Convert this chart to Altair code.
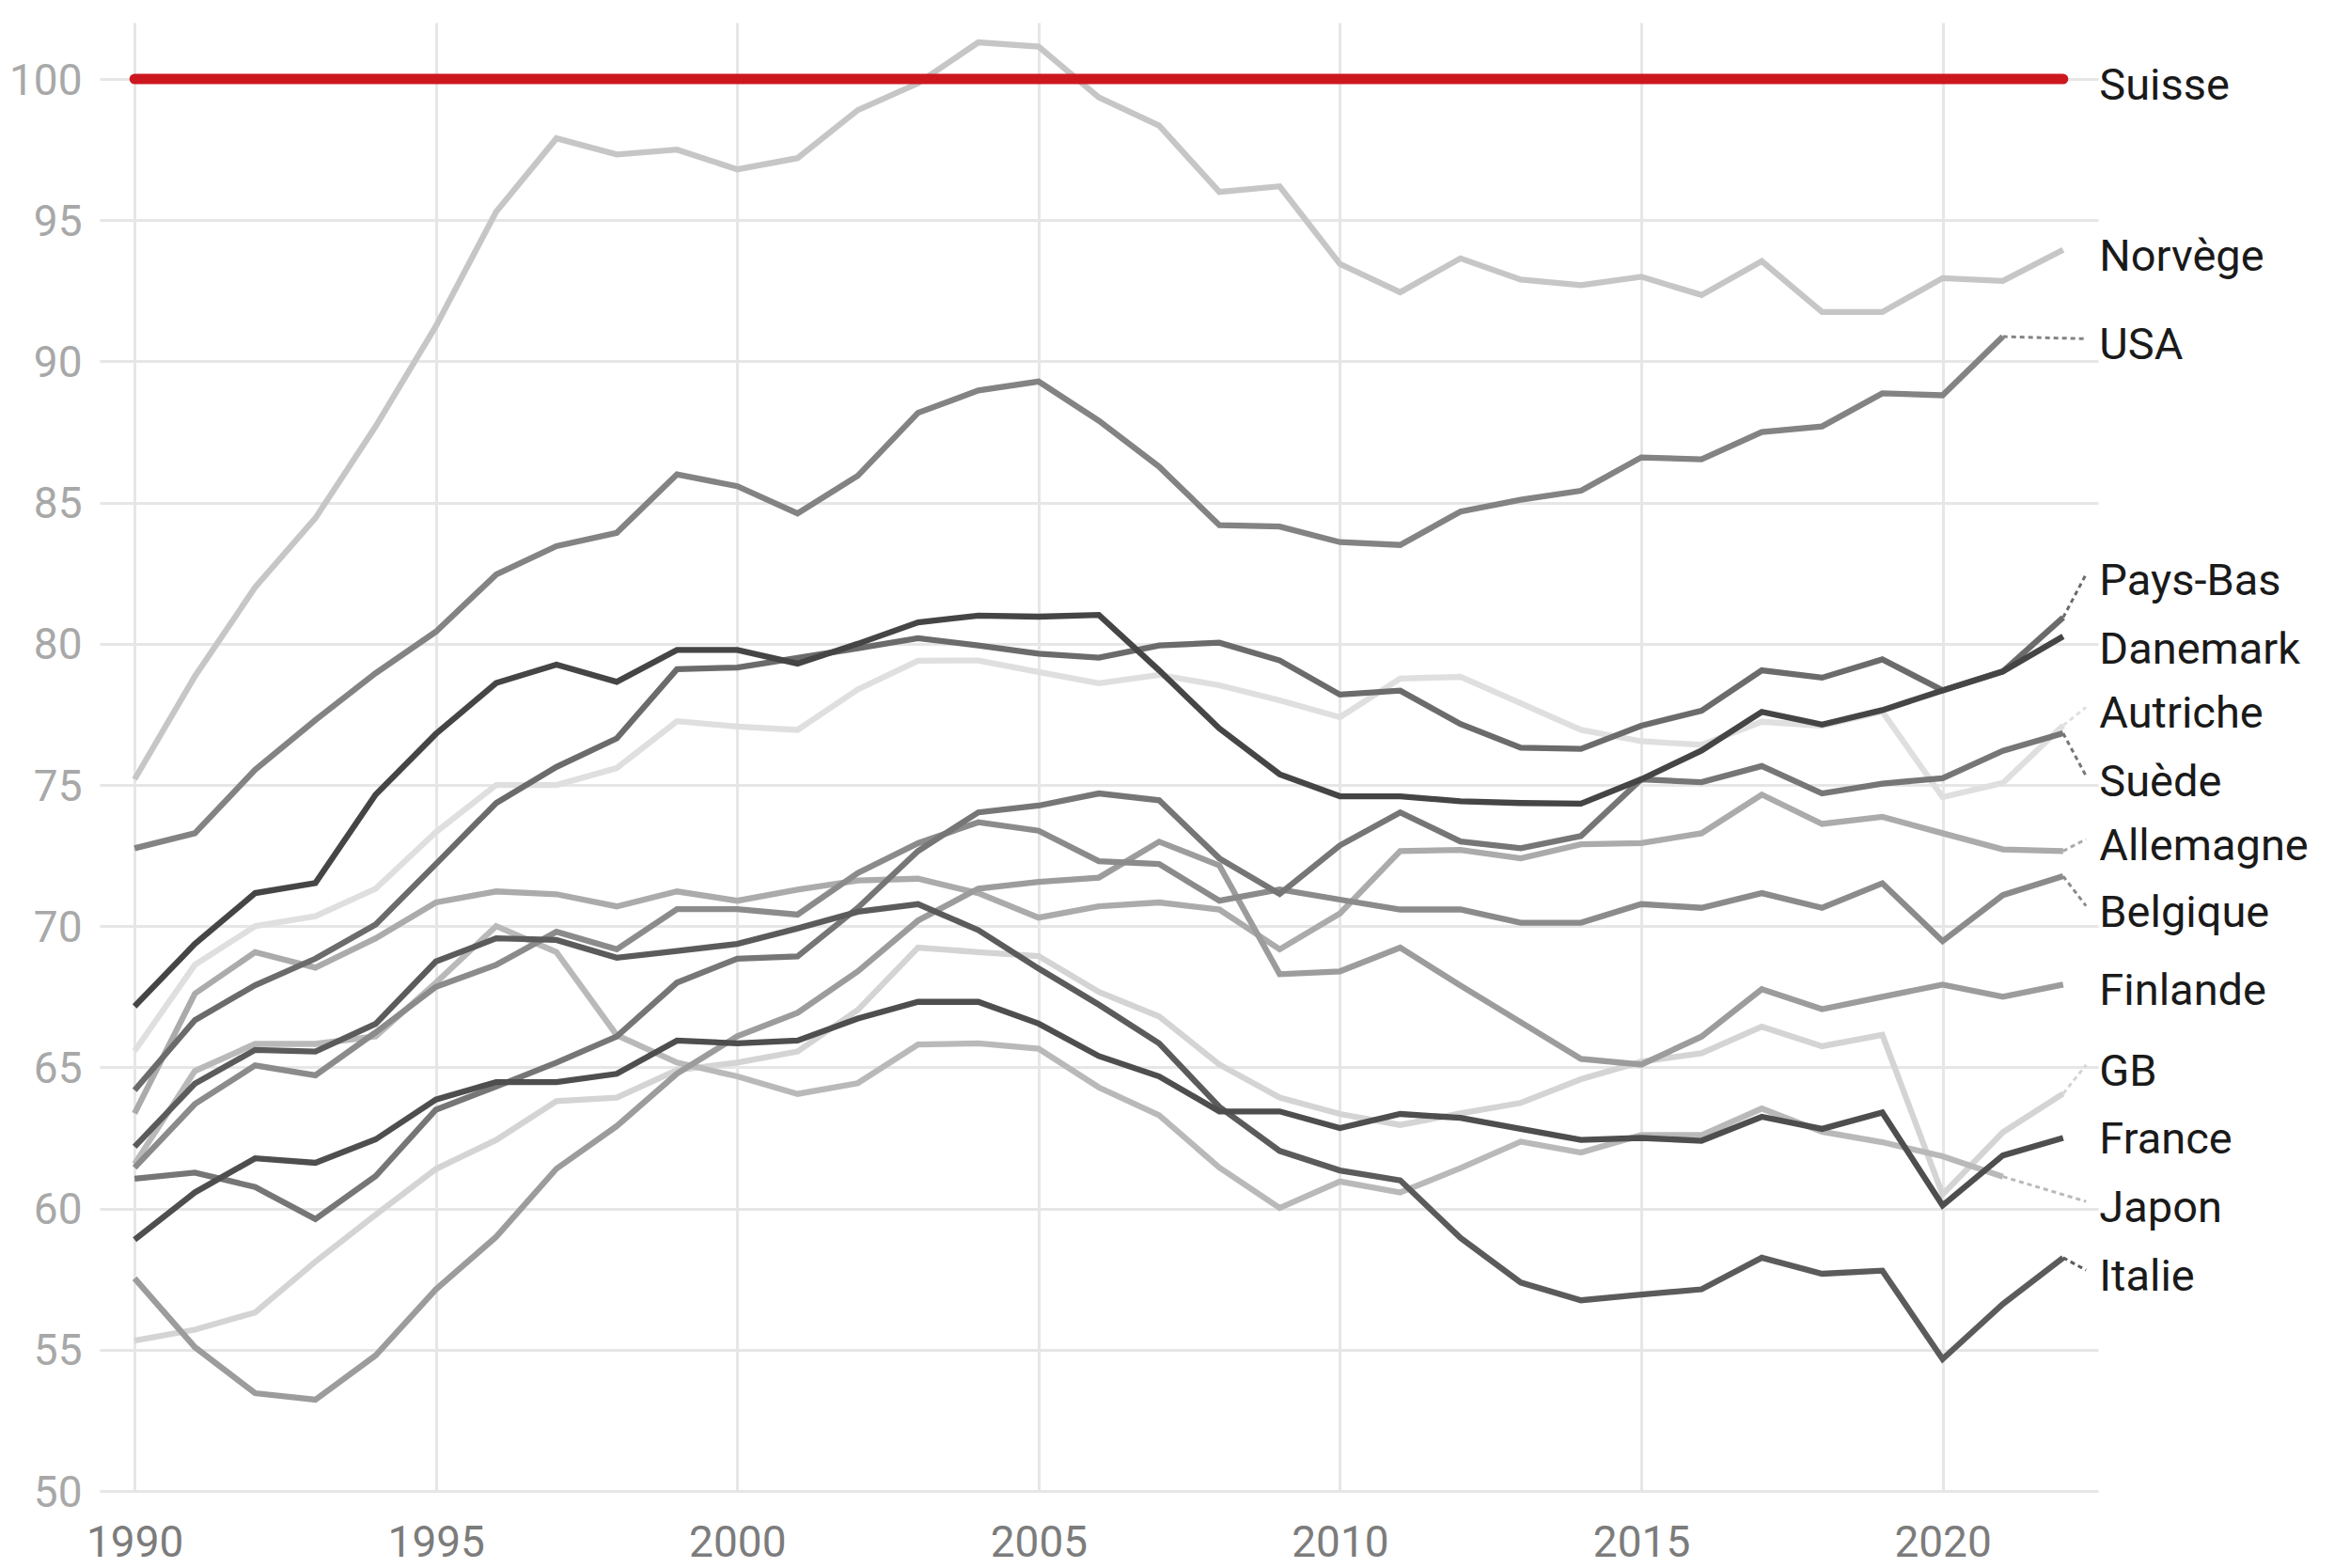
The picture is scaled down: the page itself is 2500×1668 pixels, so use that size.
import altair as alt
import pandas as pd

years = list(range(1990, 2023))

suisse = [100, 100, 100, 100, 100, 100, 100, 100, 100, 100, 100,
          100, 100, 100, 100, 100, 100, 100, 100, 100, 100, 100,
          100, 100, 100, 100, 100, 100, 100, 100, 100, 100, 100]
norvege = [75.2, 78.85, 82.0, 84.45, 87.7, 91.25, 95.3, 97.9, 97.33, 97.5, 96.8,
           97.2, 98.9, 99.85, 101.3, 101.15, 99.35, 98.35, 96.0, 96.2, 93.45,
           92.45, 93.65, 92.9, 92.7, 93.0, 92.35, 93.55, 91.75, 91.75, 92.95, 92.85, 93.95]
usa = [72.76, 73.29, 75.54, 77.3, 78.96, 80.43, 82.45, 83.46, 83.93, 86.0, 85.58,
       84.62, 85.95, 88.18, 88.97, 89.29, 87.9, 86.27, 84.2, 84.15, 83.6,
       83.5, 84.68, 85.1, 85.42, 86.6, 86.53, 87.5, 87.7, 88.87, 88.8, 90.88, None]
pays_bas = [64.19, 66.67, 67.91, 68.85, 70.06, 72.2, 74.36, 75.64, 76.65, 79.1, 79.16,
            79.5, 79.84, 80.2, 79.94, 79.65, 79.51, 79.94, 80.04, 79.41, 78.2,
            78.34, 77.16, 76.32, 76.28, 77.1, 77.63, 79.06, 78.8, 79.45, 78.35, 79.02, 80.93]
danemark = [67.16, 69.37, 71.17, 71.53, 74.66, 76.81, 78.61, 79.26, 78.65, 79.78, 79.78,
            79.3, 80.0, 80.76, 81.0, 80.96, 81.02, 79.06, 77.0, 75.38, 74.6,
            74.6, 74.42, 74.36, 74.34, 75.2, 76.22, 77.59, 77.14, 77.65, 78.35, 79.02, 80.26]
autriche = [65.58, 68.63, 70.0, 70.35, 71.33, 73.33, 75.0, 75.0, 75.6, 77.26, 77.07,
            76.95, 78.38, 79.4, 79.41, 79.0, 78.6, 78.9, 78.53, 78.0, 77.4,
            78.77, 78.83, 77.89, 76.95, 76.55, 76.42, 77.24, 77.1, 77.6, 74.57, 75.07, 77.11]
suede = [61.06, 61.27, 60.76, 59.63, 61.15, 63.5, 64.32, 65.17, 66.09, 68.0, 68.85,
         68.93, 70.65, 72.66, 74.03, 74.27, 74.7, 74.46, 72.4, 71.14, 72.86,
         74.03, 73.0, 72.76, 73.19, 75.2, 75.1, 75.67, 74.7, 75.05, 75.24, 76.21, 76.83]
allemagne = [63.37, 67.61, 69.08, 68.53, 69.57, 70.84, 71.23, 71.13, 70.7, 71.23, 70.9,
             71.29, 71.62, 71.68, 71.17, 70.3, 70.7, 70.84, 70.59, 69.18, 70.45,
             72.66, 72.7, 72.4, 72.9, 72.94, 73.29, 74.66, 73.62, 73.87, 73.29, 72.72, 72.66]
belgique = [61.45, 63.7, 65.07, 64.72, 66.24, 67.85, 68.63, 69.8, 69.18, 70.6, 70.6,
            70.41, 71.88, 72.94, 73.68, 73.38, 72.3, 72.2, 70.9, 71.3, 70.94,
            70.59, 70.59, 70.12, 70.12, 70.78, 70.65, 71.17, 70.65, 71.52, 69.47, 71.1, 71.77]
finlande = [57.53, 55.09, 53.46, 53.23, 54.8, 57.14, 59.0, 61.41, 62.92, 64.78, 66.1,
            66.93, 68.4, 70.2, 71.33, 71.57, 71.72, 72.99, 72.15, 68.3, 68.4,
            69.24, 67.9, 66.6, 65.3, 65.1, 66.09, 67.77, 67.06, 67.5, 67.93, 67.5, 67.93]
gb = [55.32, 55.71, 56.32, 58.12, 59.78, 61.4, 62.43, 63.8, 63.93, 64.9, 65.17,
      65.56, 67.03, 69.24, 69.08, 68.94, 67.67, 66.8, 65.1, 63.93, 63.35,
      62.96, 63.37, 63.74, 64.58, 65.2, 65.5, 66.44, 65.75, 66.15, 60.5, 62.7, 64.07]
france = [58.9, 60.57, 61.78, 61.62, 62.45, 63.86, 64.48, 64.48, 64.77, 65.95, 65.85,
          65.95, 66.73, 67.32, 67.32, 66.55, 65.4, 64.68, 63.44, 63.44, 62.85,
          63.35, 63.21, 62.82, 62.43, 62.5, 62.4, 63.25, 62.82, 63.4, 60.11, 61.88, 62.5]
japon = [61.58, 64.87, 65.83, 65.83, 66.1, 68.0, 70.0, 69.08, 66.14, 65.17, 64.68,
         64.06, 64.44, 65.81, 65.85, 65.66, 64.29, 63.3, 61.45, 60.02, 60.96,
         60.57, 61.43, 62.37, 61.98, 62.6, 62.6, 63.54, 62.72, 62.35, 61.85, 61.13, None]
italie = [62.19, 64.42, 65.62, 65.56, 66.54, 68.75, 69.57, 69.51, 68.88, 69.12, 69.37,
          69.92, 70.51, 70.78, 69.86, 68.5, 67.22, 65.85, 63.6, 62.04, 61.35,
          61.0, 58.96, 57.38, 56.75, 56.95, 57.14, 58.26, 57.69, 57.8, 54.67, 56.62, 58.26]

countries = ["Suisse", "Norvège", "USA", "Pays-Bas", "Danemark", "Autriche", "Suède",
             "Allemagne", "Belgique", "Finlande", "GB", "France", "Japon", "Italie"]
series = [suisse, norvege, usa, pays_bas, danemark, autriche, suede,
          allemagne, belgique, finlande, gb, france, japon, italie]
# vertical position (in data units) where each end label sits
label_pos = [100, 93.95, 90.8, 82.46, 80.02, 77.75, 75.32,
             73.08, 70.72, 67.93, 65.08, 62.69, 60.25, 57.82]
has_connector = [False, False, True, True, False, True, True,
                 True, True, False, True, False, True, True]

# styles
colors = {"Suisse": "#cd171f", "Norvège": "#c6c6c6", "USA": "#838383", "Pays-Bas": "#6b6b6b",
          "Danemark": "#454545", "Autriche": "#dfdfdf", "Suède": "#767676",
          "Allemagne": "#ababab", "Belgique": "#8b8b8b", "Finlande": "#9c9c9c",
          "GB": "#d4d4d4", "France": "#4e4e4e", "Japon": "#b9b9b9", "Italie": "#5b5b5b"}
draw_order = ["Autriche", "GB", "Norvège", "Japon", "Allemagne", "Finlande", "Belgique",
              "USA", "Suède", "Pays-Bas", "Italie", "France", "Danemark", "Suisse"]
LABEL_X = 2022.6
CONNECTOR_END_X = 2022.38

rows = []
for c, vals in zip(countries, series):
    for y, v in zip(years, vals):
        if v is not None:
            rows.append({"country": c, "year": y, "value": v})
df = pd.DataFrame(rows)

conn_rows = []
lab_rows = []
for c, vals, lp, hc in zip(countries, series, label_pos, has_connector):
    pts = [(y, v) for y, v in zip(years, vals) if v is not None]
    ly, lv = pts[-1]
    if hc:
        conn_rows.append({"country": c, "year": ly, "value": lv,
                          "year2": CONNECTOR_END_X, "value2": lp})
    lab_rows.append({"country": c, "year": LABEL_X, "value": lp})
conn_df = pd.DataFrame(conn_rows)
lab_df = pd.DataFrame(lab_rows)

x_scale = alt.Scale(domain=[1989.42, 2022.58], nice=False, zero=False)
y_scale = alt.Scale(domain=[50, 102], nice=False, zero=False)
x_axis = alt.Axis(values=[1990, 1995, 2000, 2005, 2010, 2015, 2020], format="d", title=None,
                  grid=True, gridColor="#e6e6e6", gridWidth=3, domain=False, ticks=False,
                  tickSize=0, labelFont="Roboto", labelFontSize=46, labelColor="#7c7c7c",
                  labelPadding=33, labelFlush=False, labelOverlap=False)
y_axis = alt.Axis(values=[50, 55, 60, 65, 70, 75, 80, 85, 90, 95, 100], title=None,
                  grid=True, gridColor="#e6e6e6", gridWidth=3, domain=False, ticks=False,
                  tickSize=0, labelFont="Roboto", labelFontSize=46, labelColor="#a8a8a8",
                  labelPadding=19, labelFlush=False, labelOverlap=False, labelOffset=2)

X = alt.X("year:Q", scale=x_scale, axis=x_axis)
Y = alt.Y("value:Q", scale=y_scale, axis=y_axis)

layers = []
for c in draw_order:
    sub = df[df["country"] == c]
    if c == "Suisse":
        mk = alt.Chart(sub).mark_line(color=colors[c], strokeWidth=11, strokeCap="round")
    else:
        mk = alt.Chart(sub).mark_line(color=colors[c], strokeWidth=6.3)
    layers.append(mk.encode(x=X, y=Y))

color_enc = alt.Color("country:N", scale=alt.Scale(domain=list(colors.keys()),
                                                   range=list(colors.values())), legend=None)
connectors = alt.Chart(conn_df).mark_rule(strokeWidth=3, strokeDash=[5, 4]).encode(
    x=X, y=Y, x2="year2:Q", y2="value2:Q", color=color_enc)
labels = alt.Chart(lab_df).mark_text(align="left", baseline="middle", dy=8, fontSize=47,
                                     font="Roboto", color="#1a1a1a").encode(
    x=X, y=Y, text="country:N")

chart = alt.layer(connectors, *layers, labels).properties(
    width=2126, height=1562,
    autosize=alt.AutoSizeParams(type="none"),
    padding={"left": 98, "top": 16, "right": 258, "bottom": 74},
    background="white",
).configure_view(stroke=None)

chart.save("out.html", embed_options={"renderer": "svg", "actions": False})
